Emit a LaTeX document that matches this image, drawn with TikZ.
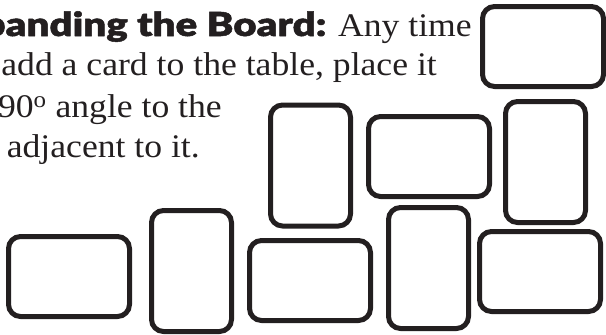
\documentclass[tikz,border=0pt]{standalone}
\usepackage{fontspec}
\setmainfont{Liberation Serif}[FakeStretch=1.08]
\newfontfamily\heavyfont{Lato Black}[FakeStretch=1.22, FakeBold=1.5]
\definecolor{cardink}{HTML}{231F20}
\begin{document}
\begin{tikzpicture}[x=1pt, y=-1pt, line join=round,
		card/.style={draw=cardink, line width=5pt, rounded corners=12pt, inner sep=0pt, minimum width=121pt, minimum height=80pt},
		upcard/.style={card, minimum width=80pt, minimum height=121pt},
		txt/.style={anchor=base east, inner sep=0pt, text=cardink, font=\fontsize{33}{40}\selectfont}]
	\useasboundingbox (0,0) rectangle (606,335);
	\node[txt] (line1) at (472,36) {{\heavyfont panding the Board:} Any time};
	\node[txt] (line2) at (437,75) {add a card to the table, place it};
	\node[txt] (line3) at (222,117) {90\textsuperscript{o} angle to the};
	\node[txt] (line4) at (200,157) {adjacent to it.};
	\node[card] (topright) at (543,46.5) {};
	\node[upcard] (upleft) at (310.5,165.5) {};
	\node[card] (middle) at (429,156.5) {};
	\node[upcard] (upright) at (545.5,162) {};
	\node[card] (lowone) at (69,276.5) {};
	\node[upcard] (lowtwo) at (191.5,271) {};
	\node[card] (lowthree) at (310,280.5) {};
	\node[upcard] (lowfour) at (428.5,268) {};
	\node[card] (lowfive) at (540,271.5) {};
\end{tikzpicture}
\end{document}
